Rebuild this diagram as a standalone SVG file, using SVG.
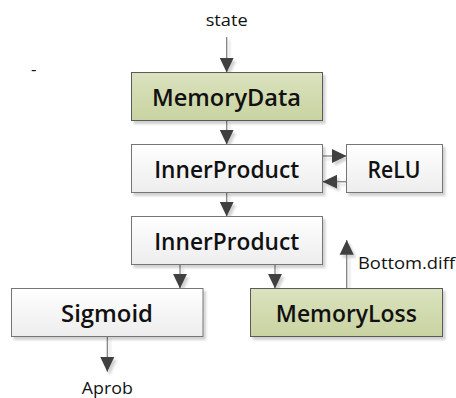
<svg xmlns="http://www.w3.org/2000/svg" width="456" height="398" viewBox="0 0 456 398">
<defs>
<linearGradient id="gGreen" x1="0" y1="0" x2="0" y2="1">
<stop offset="0" stop-color="#dbe2bf"/>
<stop offset="1" stop-color="#c9d3a1"/>
</linearGradient>
<linearGradient id="gWhite" x1="0" y1="0" x2="0" y2="1">
<stop offset="0" stop-color="#ffffff"/>
<stop offset="1" stop-color="#ededed"/>
</linearGradient>
<filter id="sh" x="-10%" y="-10%" width="130%" height="140%">
<feDropShadow dx="2.5" dy="3" stdDeviation="1" flood-color="#000" flood-opacity="0.18"/>
</filter>
<marker id="ah" markerUnits="userSpaceOnUse" markerWidth="16" markerHeight="16" viewBox="0 0 14 14" refX="13" refY="7" orient="auto">
<path d="M0,0.8 L13,7 L0,13.2 Z" fill="#404040"/>
</marker>
</defs>
<style>
.box{stroke-width:1}
.green{fill:url(#gGreen);stroke:#5a5a5a}
.white{fill:url(#gWhite);stroke:#767676}
.lbl{font-family:"Open Sans","Liberation Sans",sans-serif;font-weight:600;font-size:23px;fill:#111;text-anchor:middle}
.sm{font-family:"Open Sans","Liberation Sans",sans-serif;font-size:17px;fill:#111}
.cn{fill:none;stroke:#7a7a7a;stroke-width:1.2;marker-end:url(#ah)}
</style>

<text class="sm" x="226.7" y="25.7" text-anchor="middle" textLength="42" lengthAdjust="spacingAndGlyphs">state</text>
<text class="sm" x="31" y="75" font-size="10">-</text>

<g id="connectors" filter="url(#sh)">
<line class="cn" x1="226.7" y1="37" x2="226.7" y2="72.5"/>
<line class="cn" x1="226.7" y1="120.5" x2="226.7" y2="144.5"/>
<line class="cn" x1="322.5" y1="156" x2="346.5" y2="156"/>
<line class="cn" x1="346.5" y1="181.7" x2="322.5" y2="181.7"/>
<line class="cn" x1="226.7" y1="192.5" x2="226.7" y2="216.5"/>
<line class="cn" x1="180" y1="264.5" x2="180" y2="288.5"/>
<line class="cn" x1="275" y1="264.5" x2="275" y2="288.5"/>
<line class="cn" x1="346.7" y1="288.5" x2="346.7" y2="240"/>
<line class="cn" x1="107.3" y1="336.5" x2="107.3" y2="371.7"/>
</g>

<g id="memorydata">
<rect class="box green" x="131.5" y="72.5" width="191" height="48" filter="url(#sh)"/>
<text class="lbl" x="226.5" y="106" textLength="149" lengthAdjust="spacingAndGlyphs">MemoryData</text>
</g>
<g id="innerproduct1">
<rect class="box white" x="131.5" y="144.5" width="191" height="48" filter="url(#sh)"/>
<text class="lbl" x="226.7" y="178" textLength="145" lengthAdjust="spacingAndGlyphs">InnerProduct</text>
</g>
<g id="relu">
<rect class="box white" x="346.5" y="144.5" width="96" height="48" filter="url(#sh)"/>
<text class="lbl" x="394" y="178" textLength="53" lengthAdjust="spacingAndGlyphs">ReLU</text>
</g>
<g id="innerproduct2">
<rect class="box white" x="131.5" y="216.5" width="191" height="48" filter="url(#sh)"/>
<text class="lbl" x="226.7" y="250" textLength="145" lengthAdjust="spacingAndGlyphs">InnerProduct</text>
</g>
<g id="sigmoid">
<rect class="box white" x="11.5" y="288.5" width="191.5" height="48" filter="url(#sh)"/>
<text class="lbl" x="107" y="322" textLength="92" lengthAdjust="spacingAndGlyphs">Sigmoid</text>
</g>
<g id="memoryloss">
<rect class="box green" x="250.5" y="288.5" width="192" height="48" filter="url(#sh)"/>
<text class="lbl" x="346.3" y="322" textLength="141" lengthAdjust="spacingAndGlyphs">MemoryLoss</text>
</g>

<text class="sm" x="358" y="268.5" textLength="97" lengthAdjust="spacingAndGlyphs">Bottom.diff</text>
<text class="sm" x="107.3" y="394" text-anchor="middle" textLength="51" lengthAdjust="spacingAndGlyphs">Aprob</text>
</svg>
